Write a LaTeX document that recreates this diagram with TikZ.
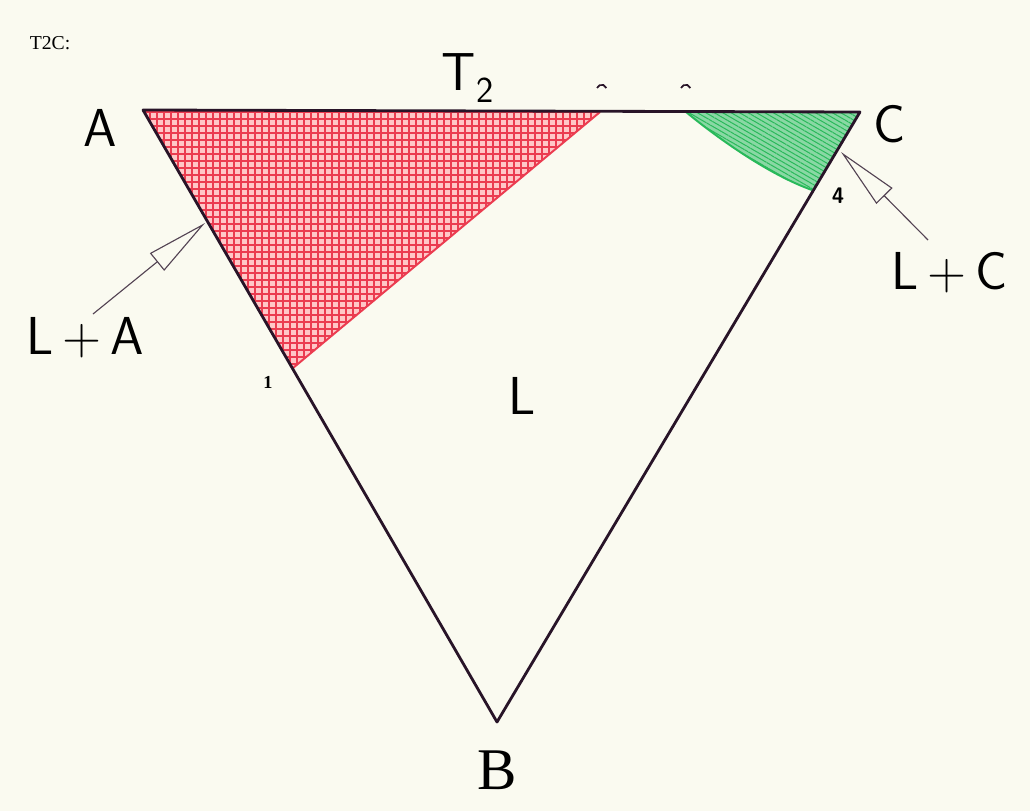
\documentclass[tikz,border=0pt]{standalone}
\usepackage{fontspec}
\setmainfont{Liberation Serif}
\usetikzlibrary{arrows.meta, patterns.meta}
\definecolor{paper}{RGB}{250,250,240}
\definecolor{edge}{RGB}{40,20,40}
\definecolor{redzone}{RGB}{235,60,80}
\definecolor{greenzone}{RGB}{40,185,90}

\begin{document}
\begin{tikzpicture}[
		x=0.025cm, y=-0.025cm,
		corner/.style={font=\sffamily\fontsize{38}{38}\selectfont, inner sep=0pt},
		bottom/.style={font=\rmfamily\fontsize{42}{42}\selectfont, inner sep=0pt},
		phase/.style={font=\sffamily\fontsize{38}{38}\selectfont, inner sep=0pt},
		tick/.style={font=\bfseries\fontsize{13}{13}\selectfont, inner sep=0pt},
		hatch/.style={redzone, line width=0.9pt},
		pointer/.style={-{Triangle[open, length=44pt, width=16pt]}, line width=0.8pt, color=edge!80},
		side/.style={line width=2pt, color=edge, line join=round}
		]
		
		% PAPER
		\fill[paper] (0,0) rectangle (1030,811);
		
		% CORNERS
		\coordinate (a) at (143,110);
		\coordinate (c) at (860,112);
		\coordinate (b) at (497,722);
		\coordinate (r1) at (600,112);
		\coordinate (r2) at (293,368);
		\coordinate (g1) at (686,112);
		\coordinate (g2) at (812,190);
		
		% L+A REGION
		\fill[red!22] (a) -- (r1) -- (r2) -- cycle;
		\begin{scope}
			\clip (a) -- (r1) -- (r2) -- cycle;
			\foreach \gx in {143,150,...,605}
				\draw[hatch] (\gx,105) -- (\gx,372);
			\foreach \gy in {112,119,...,372}
				\draw[hatch] (140,\gy) -- (605,\gy);
		\end{scope}
		\draw[redzone, line width=1.4pt] (r1) -- (r2);
		
		% L+C REGION
		\fill[greenzone!55] (g1) .. controls (720,140) and (770,175) .. (g2) -- (c) -- cycle;
		\fill[pattern={Lines[angle=-30, distance=3pt, line width=0.7pt]}, pattern color=greenzone] (g1) .. controls (720,140) and (770,175) .. (g2) -- (c) -- cycle;
		\draw[greenzone, line width=1.4pt] (g1) .. controls (720,140) and (770,175) .. (g2);
		
		% TRIANGLE
		\draw[side] (a) -- (c) -- (b) -- cycle;
		
		% LABELS
		\node[font=\fontsize{14}{14}\selectfont, inner sep=0pt] (title) at (50,43) {T2C:};
		\node[corner] (la) at (100,128) {A};
		\node[corner] (lc) at (890,124) {C};
		\node[bottom] (lb) at (497,770) {B};
		\node[phase] (lt) at (468,78) {T\textsubscript{\fontsize{26}{26}\selectfont 2}};
		\node[phase] (ll) at (522,396) {L};
		\node[phase] (lla) at (85,338) {L\,+\,A};
		\node[phase] (llc) at (950,273) {L\,+\,C};
		\node[tick] (t1) at (268,382) {1};
		\node[tick, font=\sffamily\bfseries\fontsize{16}{16}\selectfont] (t4) at (838,196) {4};
		
		% SMALL MARKS ABOVE T2
		\draw[edge, line width=1.2pt] (597,88) arc[start angle=200, end angle=340, radius=5];
		\draw[edge, line width=1.2pt] (681,88) arc[start angle=200, end angle=340, radius=5];
		
		% POINTERS
		\coordinate (pa0) at (93,314);
		\coordinate (pa1) at (205,223);
		\coordinate (pc0) at (928,240);
		\coordinate (pc1) at (841,152);
		\draw[pointer] (pa0) -- (pa1);
		\draw[pointer] (pc0) -- (pc1);
		
	\end{tikzpicture}
\end{document}
